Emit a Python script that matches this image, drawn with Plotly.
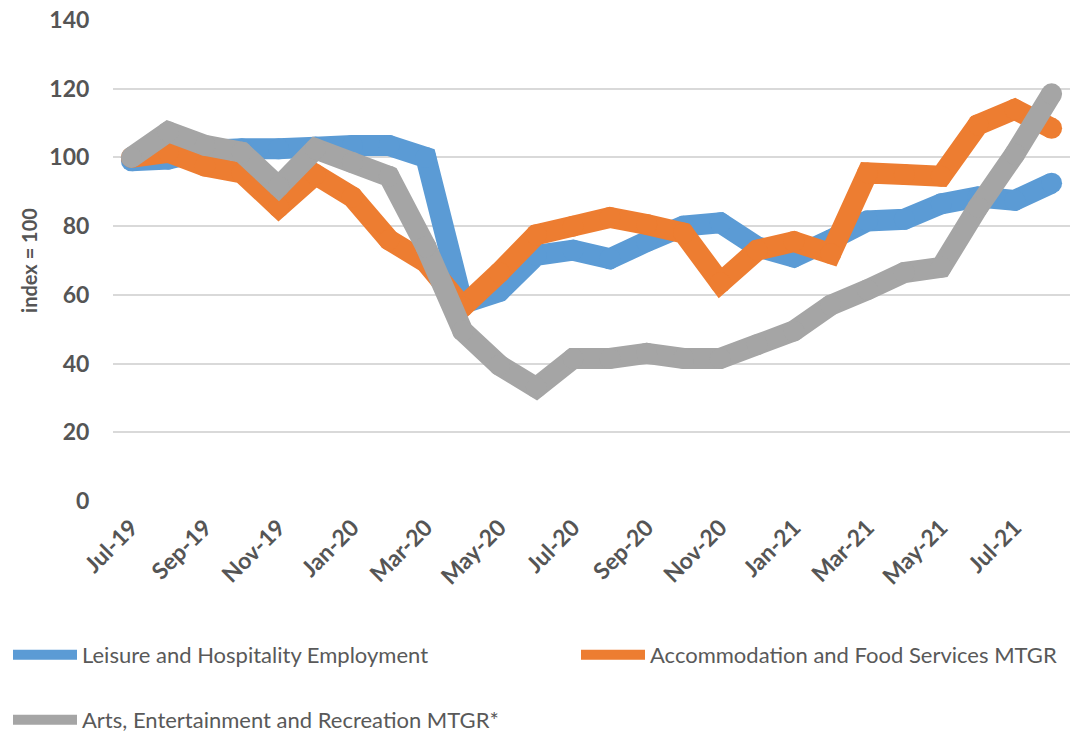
import plotly.graph_objects as go

months = ["Jul-19", "Aug-19", "Sep-19", "Oct-19", "Nov-19", "Dec-19", "Jan-20", "Feb-20",
          "Mar-20", "Apr-20", "May-20", "Jun-20", "Jul-20", "Aug-20", "Sep-20", "Oct-20",
          "Nov-20", "Dec-20", "Jan-21", "Feb-21", "Mar-21", "Apr-21", "May-21", "Jun-21",
          "Jul-21", "Aug-21"]

leisure_emp = [99, 99.5, 102, 102.5, 102.5, 103, 103.5, 103.5, 100, 57.5, 61, 71.5, 73, 70.5,
               75.5, 80, 81, 74, 71, 76, 81.5, 82, 86.5, 88.5, 87.5, 92.5]
accom_food = [100, 101.5, 97.5, 95.5, 85.5, 95, 88.5, 76, 69.5, 56.5, 66.5, 77.5, 80, 82.5,
              80.5, 78, 63.5, 73, 75.5, 72, 95.5, 95, 94.5, 109.5, 114, 108.5]
arts_ent = [100, 107.5, 103.5, 101.5, 91.5, 102.5, 98.5, 94.5, 74, 49.5, 39.5, 33, 41.5, 41.5,
            43, 41.5, 41.5, 45.5, 49.5, 57, 61.5, 66.5, 68, 85.5, 101, 118.5]

names = ["Leisure and Hospitality Employment", "Accommodation and Food Services MTGR",
         "Arts, Entertainment and Recreation MTGR*"]
colors = ["#5B9BD5", "#ED7D31", "#A5A5A5"]
legend_ids = ["legend", "legend2", "legend3"]
y_ticks = [0, 20, 40, 60, 80, 100, 120, 140]

LW = 21

fig = go.Figure()
for ys, nm, col, lg in zip([leisure_emp, accom_food, arts_ent], names, colors, legend_ids):
    fig.add_trace(go.Scatter(x=months, y=ys, name=nm, mode="lines",
                             line=dict(color=col, width=LW, simplify=False), legend=lg))
    # round joins / caps
    fig.add_trace(go.Scatter(x=months, y=ys, mode="markers", showlegend=False,
                             hoverinfo="skip",
                             marker=dict(color=col, size=LW, line=dict(width=0))))

tick_font = dict(family="Lato", size=23, color="#555555", weight="bold")
leg_font = dict(family="Lato", size=22, color="#595959")

leg_common = dict(orientation="h", xref="container", yref="container",
                  xanchor="left", yanchor="middle", itemwidth=64,
                  font=leg_font, bgcolor="rgba(0,0,0,0)")

fig.update_layout(
    width=1071, height=735,
    margin=dict(l=113, r=1, t=20, b=234),
    paper_bgcolor="white", plot_bgcolor="white",
    xaxis=dict(type="category", range=[-0.5, 25.5], tickmode="array",
               tickvals=months[::2], ticktext=months[::2], tickangle=-45,
               tickfont=tick_font, showgrid=False, zeroline=False, showline=False,
               ticks="outside", ticklen=3, tickcolor="rgba(0,0,0,0)", automargin=False),
    yaxis=dict(range=[0, 140], tickvals=y_ticks, tickfont=tick_font,
               showgrid=True, gridcolor="#D9D9D9", gridwidth=2, zeroline=False,
               ticks="outside", ticklen=18, tickcolor="rgba(0,0,0,0)", automargin=False,
               title=dict(text="index = 100",
                          font=dict(family="Lato", size=20, color="#555555", weight="bold"),
                          standoff=6)),
    legend=dict(x=8 / 1071, y=1 - 655 / 735, **leg_common),
    legend2=dict(x=576 / 1071, y=1 - 655 / 735, **leg_common),
    legend3=dict(x=8 / 1071, y=1 - 720 / 735, **leg_common),
)

fig.write_html("out.html", config={"displayModeBar": False},
               post_script="document.body.style.margin='0';")
